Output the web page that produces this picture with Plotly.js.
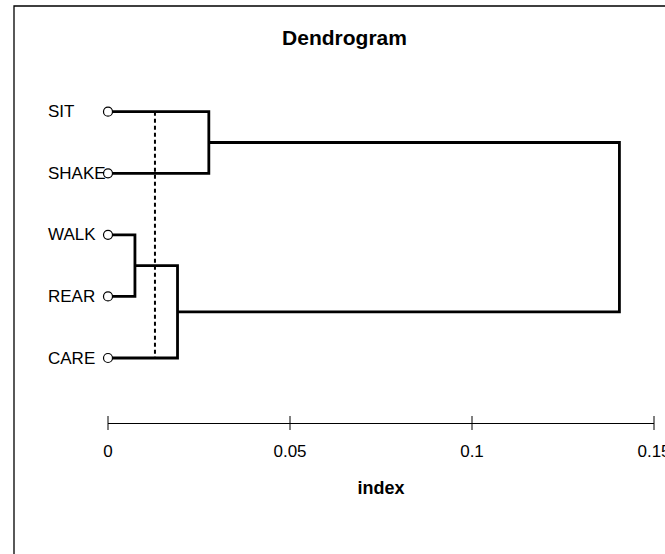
<!DOCTYPE html>
<html>
<head>
<meta charset="utf-8">
<script src="https://cdn.plot.ly/plotly-3.0.1.min.js"></script>
<style>
  html, body { margin: 0; padding: 0; background: #ffffff; overflow: hidden; }
  #chart { width: 665px; height: 554px; }
</style>
</head>
<body>
<div id="chart"></div>
<script>
// ---- data ----
const leaves = ['SIT', 'SHAKE', 'WALK', 'REAR', 'CARE'];
const mergeName = ['M1', 'M2', 'M3', 'M4'];
const mergeA = ['WALK', 'M1', 'SIT', 'M3'];
const mergeB = ['REAR', 'CARE', 'SHAKE', 'M2'];
const mergeHeight = [0.0074, 0.0191, 0.0277, 0.1405];
const cutLevel = 0.0129;
const tickVals = [0, 0.05, 0.1, 0.15];
const tickText = ['0', '0.05', '0.1', '0.15'];

// ---- build dendrogram geometry from the data ----
const node = {};
leaves.forEach((name, i) => { node[name] = { x: 0, y: leaves.length - i }; });
const lx = [], ly = [];
mergeName.forEach((name, i) => {
  const a = node[mergeA[i]], b = node[mergeB[i]], h = mergeHeight[i];
  lx.push(a.x, h, h, b.x, null);
  ly.push(a.y, a.y, b.y, b.y, null);
  node[name] = { x: h, y: (a.y + b.y) / 2 };
});
const leafX = leaves.map(n => node[n].x);
const leafY = leaves.map(n => node[n].y);

const FONT = 'Liberation Sans, Arial, sans-serif';
const W = 665, H = 554;
const M = { l: 108, r: 11, t: 80, b: 131 };
const plotW = W - M.l - M.r, plotH = H - M.t - M.b;
const yMin = -0.0556, yMax = 5.515;

const traces = [
  { x: lx, y: ly, mode: 'lines', type: 'scatter', line: { color: '#000', width: 2.8 }, cliponaxis: false, hoverinfo: 'skip' },
  { x: [cutLevel, cutLevel], y: [leafY[0], leafY[leafY.length - 1]], mode: 'lines', type: 'scatter',
    line: { color: '#000', width: 2, dash: '4px,3px' }, cliponaxis: false, hoverinfo: 'skip' },
  { x: leafX, y: leafY, mode: 'markers', type: 'scatter',
    marker: { symbol: 'circle', size: 9, color: '#fff', line: { color: '#000', width: 1.2 } }, cliponaxis: false, hoverinfo: 'skip' },
  { x: tickVals, y: tickVals.map(() => yMin), mode: 'markers', type: 'scatter',
    marker: { symbol: 'line-ns-open', size: 10, color: '#000', line: { color: '#000', width: 1 } }, cliponaxis: false, hoverinfo: 'skip' }
];

const labelX = (46 - M.l) / plotW;
const annotations = leaves.map((name, i) => ({
  text: name, xref: 'paper', yref: 'y', x: labelX, y: leafY[i],
  xanchor: 'left', yanchor: 'middle', showarrow: false,
  font: { family: FONT, size: 17, color: '#000' }
}));

const shapes = [{
  type: 'rect', xref: 'paper', yref: 'paper',
  x0: (14 - M.l) / plotW, x1: (676 - M.l) / plotW,
  y0: (H - M.b - 600) / plotH, y1: (H - M.b - 6) / plotH,
  line: { color: '#000', width: 1.3 }, fillcolor: 'rgba(0,0,0,0)', layer: 'below'
}];

const layout = {
  width: W, height: H,
  margin: M,
  paper_bgcolor: '#fff', plot_bgcolor: '#fff',
  showlegend: false, hovermode: false,
  font: { family: FONT, color: '#000' },
  title: { text: '<b>Dendrogram</b>', font: { family: FONT, size: 21, color: '#000' },
    xref: 'container', yref: 'container', x: 344.5 / W, xanchor: 'center', y: 1 - 38 / H, yanchor: 'middle' },
  xaxis: {
    range: [0, 0.15], showgrid: false, zeroline: false,
    showline: true, linecolor: '#000', linewidth: 1,
    tickmode: 'array', tickvals: tickVals, ticktext: tickText, ticks: '',
    ticklabelstandoff: 13, ticklabeloverflow: 'allow',
    tickfont: { family: FONT, size: 17, color: '#000' },
    title: { text: '<b>index</b>', font: { family: FONT, size: 18, color: '#000' }, standoff: 20 },
    fixedrange: true
  },
  yaxis: {
    range: [yMin, yMax], visible: false, fixedrange: true
  },
  annotations: annotations,
  shapes: shapes
};

Plotly.newPlot('chart', traces, layout, { staticPlot: true, displayModeBar: false });
</script>
</body>
</html>
